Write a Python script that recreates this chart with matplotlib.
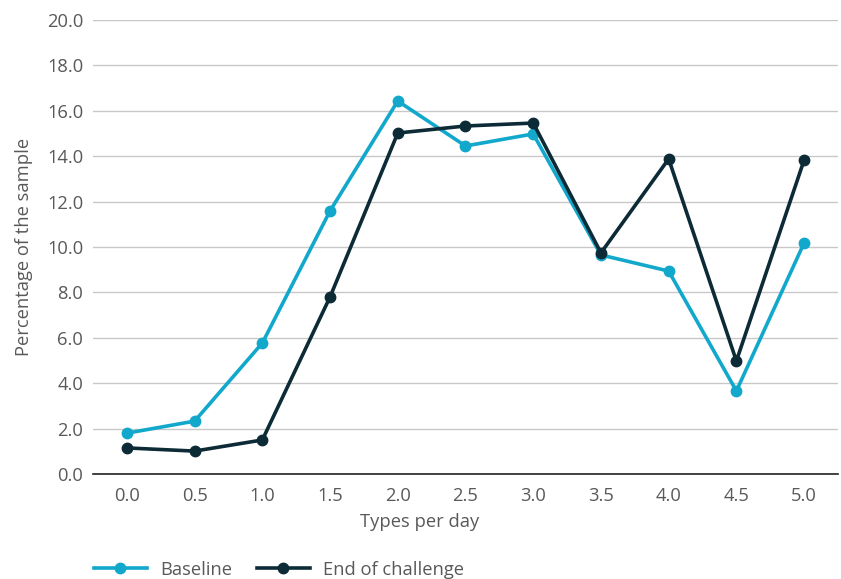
import matplotlib.pyplot as plt
import numpy as np

plt.rcParams['font.family'] = ['Open Sans', 'DejaVu Sans']

types = ['0.0', '0.5', '1.0', '1.5', '2.0', '2.5', '3.0', '3.5', '4.0', '4.5', '5.0']
baseline = [1.8, 2.33, 5.77, 11.59, 16.43, 14.45, 14.98, 9.65, 8.94, 3.66, 10.18]
end_challenge = [1.15, 1.01, 1.5, 7.8, 15.02, 15.33, 15.46, 9.74, 13.88, 4.98, 13.83]

c_base = '#12a8cc'
c_end = '#0d2b36'
grey = '#595959'
fs = 13.2

fig = plt.figure(figsize=(8.41, 5.79), dpi=100)
ax = fig.add_axes([0.1106, 0.1813, 0.8858, 0.7842])

x = np.arange(len(types))
ax.plot(x, baseline, color=c_base, lw=2.6, marker='o', ms=7.5, label='Baseline', zorder=3)
ax.plot(x, end_challenge, color=c_end, lw=2.6, marker='o', ms=7.5, label='End of challenge', zorder=4)

ax.set_xlim(-0.5, len(types) - 0.5)
ax.set_ylim(0, 20)
ax.set_xticks(x)
ax.set_xticklabels(types)
ax.set_yticks(np.arange(0, 21, 2))
ax.set_yticklabels(['%.1f' % v for v in np.arange(0, 21, 2)])
ax.yaxis.grid(True, color='#c8c8c8', lw=1)
ax.set_axisbelow(True)
for s in ['top', 'right', 'left']:
    ax.spines[s].set_visible(False)
ax.spines['bottom'].set_color('#222222')
ax.spines['bottom'].set_linewidth(1.2)
ax.tick_params(length=0, labelsize=fs, colors=grey)
ax.tick_params(axis='x', pad=9)
ax.tick_params(axis='y', pad=7)
ax.set_xlabel('Types per day', fontsize=fs, color=grey, labelpad=1)
ax.xaxis.set_label_coords(0.439, -0.085)
ax.set_ylabel('Percentage of the sample', fontsize=fs, color=grey, labelpad=10)

leg = fig.legend(loc='lower left', bbox_to_anchor=(0.092, -0.028), ncol=2, frameon=False,
                 fontsize=fs, handlelength=2.9, columnspacing=1.35, handletextpad=0.7)
for t in leg.get_texts():
    t.set_color(grey)

fig.savefig('out.png', dpi=100)
